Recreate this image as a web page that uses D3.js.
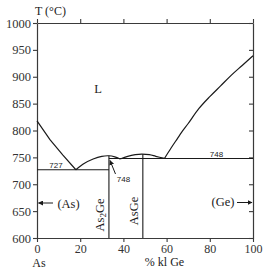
<!DOCTYPE html>
<html><head><meta charset="utf-8">
<script src="https://cdn.jsdelivr.net/npm/d3@7"></script>
<style>body{margin:0;background:#fff}svg{display:block}text{font-family:"Liberation Serif","Times New Roman",serif}</style>
</head><body><svg id="c" width="272" height="280"></svg>
<script>
// ---- data ----
const xTicks = [0, 20, 40, 60, 80, 100];
const yTicks = [600, 650, 700, 750, 800, 850, 900, 950, 1000];
const liquidusLeft = [[0, 818], [6, 783], [12, 754], [18, 727]];
const liquidusMid1 = [[18, 727], [22, 739], [26, 747], [30, 752], [33.3, 753], [36, 751], [38.5, 747]];
const liquidusMid2 = [[38.5, 747], [42, 752], [45.5, 755], [48.5, 756], [52, 755], [55, 752], [59, 748]];
const liquidusRight = [[59, 748], [62, 767], [65, 785], [67, 797], [70, 813], [75, 841], [80, 863], [85, 883], [90, 903], [95, 921], [100, 939]];
const compounds = [{name: "As2Ge", x: 33.3, t: 753}, {name: "AsGe", x: 49, t: 756}];
const eutectics = [{x0: 0, x1: 33.3, t: 727, label: "727"}, {x0: 33.3, x1: 100, t: 748, label: "748"}];

const svg = d3.select("#c");
const x = d3.scaleLinear().domain([0, 100]).range([37, 253]);
const y = d3.scaleLinear().domain([600, 1000]).range([238, 23]);
const serif = '"Liberation Serif","Times New Roman",serif';
const sans = '"Liberation Sans",Arial,sans-serif';
const axisCol = "#3a3a3a";

function styleAxis(g, size) {
  g.attr("font-family", null);
  g.select(".domain").attr("stroke", axisCol).attr("stroke-width", 1.2);
  g.selectAll(".tick line").attr("stroke", axisCol).attr("stroke-width", 1.1);
  g.selectAll("text").style("font-family", serif).attr("font-size", size || 12.5).attr("fill", "#333");
}
const fmt = d3.format("d");
svg.append("g").attr("transform", `translate(0,${y(600)})`)
  .call(d3.axisBottom(x).tickValues(xTicks).tickFormat(fmt).tickSize(4).tickPadding(2).tickSizeOuter(0)).call(styleAxis, 12);
svg.append("g").attr("transform", `translate(0,${y(1000)})`)
  .call(d3.axisTop(x).tickValues(xTicks).tickSize(4).tickFormat("").tickSizeOuter(0)).call(styleAxis);
svg.append("g").attr("transform", `translate(${x(0)},0)`)
  .call(d3.axisLeft(y).tickValues(yTicks).tickFormat(fmt).tickSize(4).tickPadding(2).tickSizeOuter(0)).call(styleAxis);
svg.append("g").attr("transform", `translate(${x(100)},0)`)
  .call(d3.axisLeft(y).tickValues(yTicks).tickSize(4).tickFormat("").tickSizeOuter(0)).call(styleAxis);

const line = d3.line().x(d => x(d[0])).y(d => y(d[1]));
const curve = d3.line().x(d => x(d[0])).y(d => y(d[1])).curve(d3.curveCatmullRom);
const ink = "#1a1a1a";
[liquidusLeft].forEach(p => svg.append("path").attr("d", line(p)).attr("fill", "none").attr("stroke", ink).attr("stroke-width", 1.2));
[liquidusMid1, liquidusMid2, liquidusRight].forEach(p => svg.append("path").attr("d", curve(p)).attr("fill", "none").attr("stroke", ink).attr("stroke-width", 1.2));

eutectics.forEach(e => {
  svg.append("line").attr("x1", x(e.x0)).attr("x2", x(e.x1)).attr("y1", y(e.t)).attr("y2", y(e.t))
    .attr("stroke", ink).attr("stroke-width", 1.1);
});
compounds.forEach(c => {
  svg.append("line").attr("x1", x(c.x)).attr("x2", x(c.x)).attr("y1", y(c.t)).attr("y2", y(600))
    .attr("stroke", ink).attr("stroke-width", 1.1);
});

// eutectic labels
function sansLabel(xp, yp, s) {
  svg.append("text").attr("x", xp).attr("y", yp).attr("text-anchor", "middle")
    .style("font-family", sans).attr("font-size", 8).attr("fill", "#222").text(s);
}
sansLabel(56, 168, eutectics[0].label);
sansLabel(216.5, 157, eutectics[1].label);
sansLabel(123.5, 182, "748");

const defs = svg.append("defs");
defs.append("marker").attr("id", "ah").attr("viewBox", "0 0 10 10").attr("refX", 9).attr("refY", 5)
  .attr("markerWidth", 5).attr("markerHeight", 5).attr("orient", "auto")
  .append("path").attr("d", "M0,0L10,5L0,10z").attr("fill", ink);

svg.append("line").attr("x1", 115.5).attr("y1", 174).attr("x2", 110).attr("y2", 160.5)
  .attr("stroke", ink).attr("stroke-width", 1).attr("marker-end", "url(#ah)");

// phase labels
function serifLabel(xp, yp, s, size) {
  return svg.append("text").attr("x", xp).attr("y", yp).attr("text-anchor", "middle")
    .style("font-family", serif).attr("font-size", size || 12.5).attr("fill", "#222").text(s);
}
serifLabel(98, 93, "L");
serifLabel(68.5, 208, "(As)");
svg.append("line").attr("x1", 53).attr("y1", 203).attr("x2", 38.5).attr("y2", 203)
  .attr("stroke", ink).attr("stroke-width", 1).attr("marker-end", "url(#ah)");
serifLabel(223, 206, "(Ge)");
svg.append("line").attr("x1", 237).attr("y1", 202.5).attr("x2", 252).attr("y2", 202.5)
  .attr("stroke", ink).attr("stroke-width", 1).attr("marker-end", "url(#ah)");

// compound labels (rotated)
const t1 = svg.append("text").attr("transform", "translate(104,215) rotate(-90)").attr("text-anchor", "middle")
  .style("font-family", serif).attr("font-size", 12.5).attr("fill", "#222");
t1.append("tspan").text("As");
t1.append("tspan").attr("font-size", 9).attr("dy", 2).text("2");
t1.append("tspan").attr("dy", -2).text("Ge");
svg.append("text").attr("transform", "translate(138,211) rotate(-90)").attr("text-anchor", "middle")
  .style("font-family", serif).attr("font-size", 12.5).attr("fill", "#222").text("AsGe");

// axis titles
svg.append("text").attr("x", 35).attr("y", 15).style("font-family", serif).attr("font-size", 12)
  .attr("fill", "#222").text("T (°C)");
serifLabel(39, 266.5, "As", 12);
serifLabel(164.5, 265.5, "% kl Ge", 12);
</script></body></html>
